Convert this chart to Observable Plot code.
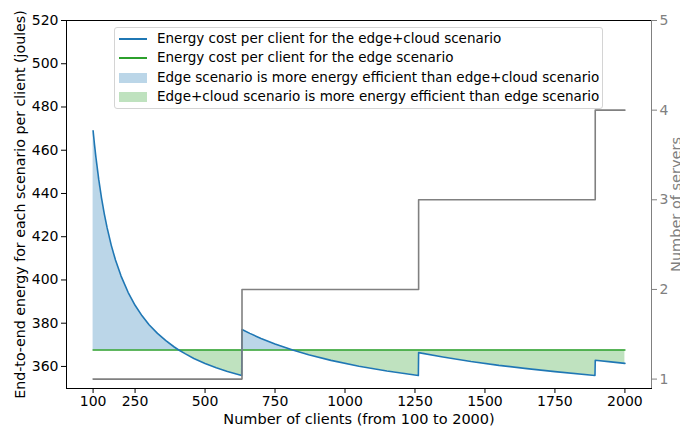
<!DOCTYPE html>
<html><head><meta charset="utf-8">
<script src="https://cdn.jsdelivr.net/npm/d3@7"></script>
<script src="https://cdn.jsdelivr.net/npm/@observablehq/plot@0.6"></script>
<style>
body{margin:0;background:#fff;}
#wrap{position:relative;width:680px;height:429px;font-family:"DejaVu Sans",sans-serif;overflow:hidden;}
#wrap svg{position:absolute;left:0;top:0;}
#legend{position:absolute;left:114px;top:27px;width:487px;height:80px;border:1px solid #d4d4d4;border-radius:3px;background:rgba(255,255,255,0.8);font-size:13.5px;color:#000;}
.row{position:absolute;left:0;height:19px;width:480px;}
.h{position:absolute;left:4px;width:28px;}
.t{position:absolute;left:42px;top:0;line-height:19px;white-space:nowrap;}
</style>
</head><body>
<div id="wrap"></div>
<script>
// ---- data ----
const clients = [100,105,110,120,130,140,150,165,180,200,225,250,275,300,330,360,390,406,430,460,500,540,580,631,
  632,660,700,750,813,870,950,1050,1150,1262,
  1263,1350,1450,1550,1650,1750,1893,
  1894,1950,2000];
const edgeCloudEnergy = [469.0,462.6,456.8,446.6,438.0,430.6,424.2,416.0,409.2,401.8,394.3,388.3,383.4,379.3,375.3,371.9,369.0,367.6,365.8,363.7,361.4,359.4,357.7,355.8,
  377.1,375.3,372.9,370.4,367.6,365.4,362.8,360.1,357.9,355.8,
  366.4,364.4,362.3,360.5,359.0,357.6,355.8,
  362.9,362.1,361.4];
const edgeEnergy = 367.6;
const serverClients = [100,632,1263,1894,2000];
const serverCounts = [1,2,3,4,4];
const xTicks = [100,250,500,750,1000,1250,1500,1750,2000];
const yTicks = [360,380,400,420,440,460,480,500,520];
const serverTicks = [1,2,3,4,5];
const legendLabels = [
  "Energy cost per client for the edge+cloud scenario",
  "Energy cost per client for the edge scenario",
  "Edge scenario is more energy efficient than edge+cloud scenario",
  "Edge+cloud scenario is more energy efficient than edge scenario"];

const blue = "#1f77b4", green = "#2ca02c";
const blueFill = "rgba(31,119,180,0.3)", greenFill = "rgba(44,160,44,0.3)";

const rows = clients.map((c,i)=>({c, ec: edgeCloudEnergy[i], edge: edgeEnergy}));
const srv = serverClients.map((c,i)=>({c, s: serverCounts[i]}));

const W=680,H=429;
const margins = {marginTop:20, marginRight:29, marginBottom:41, marginLeft:66};
const fmt = d => String(d);

const main = Plot.plot({
  width:W, height:H, ...margins,
  style:{fontFamily:"DejaVu Sans", fontSize:"14px", color:"#000", background:"transparent"},
  x:{domain:[5,2095], axis:null},
  y:{domain:[349.8,520], axis:null},
  marks:[
    Plot.areaY(rows,{x:"c", y1:"edge", y2:d=>Math.max(d.ec,d.edge), fill:blueFill}),
    Plot.areaY(rows,{x:"c", y1:d=>Math.min(d.ec,d.edge), y2:"edge", fill:greenFill}),
    Plot.line(rows,{x:"c", y:"edge", stroke:green, strokeWidth:1.6}),
    Plot.line(rows,{x:"c", y:"ec", stroke:blue, strokeWidth:1.6}),
    Plot.frame({stroke:"#000", strokeWidth:1}),
    Plot.axisX({ticks:xTicks, tickFormat:fmt, tickSize:5, tickPadding:3, label:null, fontSize:14}),
    Plot.axisY({ticks:yTicks, tickFormat:fmt, tickSize:5, tickPadding:3, label:null, fontSize:14}),
    Plot.text(["Number of clients (from 100 to 2000)"],{frameAnchor:"bottom", lineAnchor:"middle", dy:31, fontSize:14.5, fill:"#000"}),
    Plot.text(["End-to-end energy for each scenario per client (joules)"],{frameAnchor:"left", textAnchor:"middle", lineAnchor:"middle", dx:-46, rotate:-90, fontSize:14.2, fill:"#000"})
  ]
});

const over = Plot.plot({
  width:W, height:H, ...margins,
  style:{fontFamily:"DejaVu Sans", fontSize:"14px", color:"gray", background:"transparent"},
  x:{domain:[5,2095], axis:null},
  y:{domain:[0.895,5], axis:null},
  marks:[
    Plot.line(srv,{x:"c", y:"s", curve:"step-after", stroke:"gray", strokeWidth:1.6}),
    Plot.ruleX([2095],{stroke:"gray", strokeWidth:1}),
    Plot.axisY({anchor:"right", ticks:serverTicks, tickFormat:fmt, tickSize:5, tickPadding:3, label:null, fontSize:14}),
    Plot.text(["Number of servers"],{frameAnchor:"right", textAnchor:"middle", lineAnchor:"middle", dx:25, rotate:-90, fontSize:14.5, fill:"gray"})
  ]
});

const wrap = document.getElementById("wrap");
wrap.appendChild(main);

const lg = document.createElement("div");
lg.id="legend";
const tops=[1,20,40,59];
legendLabels.forEach((lab,i)=>{
  const r=document.createElement("div"); r.className="row"; r.style.top=tops[i]+"px";
  const h=document.createElement("div"); h.className="h";
  if(i<2){ h.style.top="9px"; h.style.height="2px"; h.style.backgroundColor=(i===0?blue:green); }
  else { h.style.top="5px"; h.style.height="10px"; h.style.backgroundColor=(i===2?blueFill:greenFill); }
  const t=document.createElement("div"); t.className="t"; t.textContent=lab;
  r.appendChild(h); r.appendChild(t); lg.appendChild(r);
});
wrap.appendChild(lg);
wrap.appendChild(over);
</script>
</body></html>
